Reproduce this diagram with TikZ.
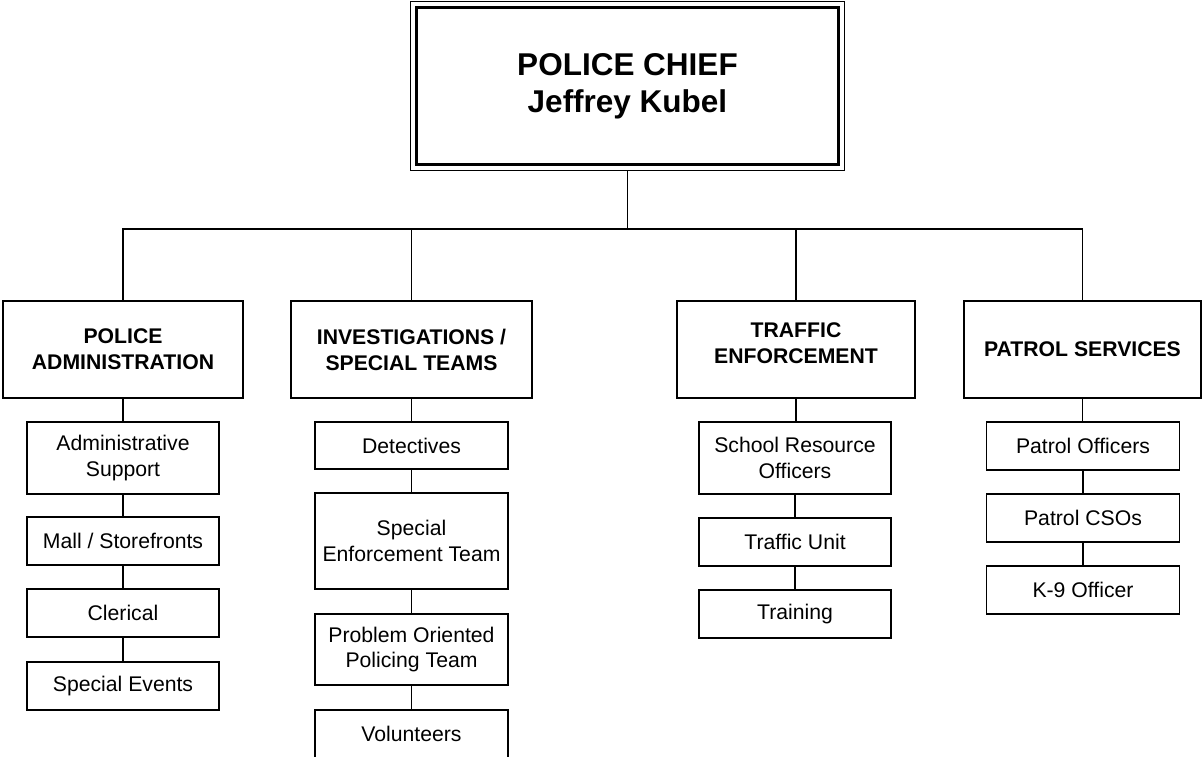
\documentclass[tikz,border=0pt]{standalone}
\usepackage{fontspec}
\setmainfont{Liberation Sans}
\usetikzlibrary{fit}
\tikzset{
  box/.style={draw=black, line width=1.8pt, rectangle, align=center, inner sep=0pt,
    font=\fontsize{21.2}{25.5}\selectfont},
  head/.style={box, minimum width=240pt, minimum height=97pt, font=\fontsize{21.2}{26}\selectfont\bfseries},
  sub/.style={box, minimum width=193pt},
  conn/.style={draw=black, line width=1.8pt}
}
\begin{document}
\begin{tikzpicture}[x=1pt, y=-1pt]
\useasboundingbox (0,0) rectangle (1202,757);
\fill[white] (0,0) rectangle (1202,757);

% chief
\node[draw=black, line width=2.2pt, minimum width=422pt, minimum height=157pt, align=center,
      inner sep=0pt, font=\fontsize{31.5}{37}\selectfont\bfseries] (chief) at (627.5,86)
      {POLICE CHIEF\\Jeffrey Kubel};
\node[draw=black, line width=1.4pt, fit=(chief), inner sep=5pt] (chiefo) {};

\coordinate (bus) at (627.5,229);

% departments
\node[head] (admin) at (123,349.5) {POLICE\\ADMINISTRATION};
\node[head, minimum width=241pt] (invest) at (411.5,349.5) {INVESTIGATIONS /\\SPECIAL TEAMS};
\node[head, minimum width=238pt] (traffic) at (796,349.5) {};
\node[font=\fontsize{21.2}{26}\selectfont\bfseries, align=center] (traffictxt) at (796,343) {TRAFFIC\\ENFORCEMENT};
\node[head, minimum width=237pt] (patrol) at (1082.5,349.5) {PATROL SERVICES};

% bus connectors
\draw[conn] (chiefo.south) -- (bus);
\draw[conn] (admin.north) -- (admin.north |- bus) -- (patrol.north |- bus) -- (patrol.north);
\draw[conn] (invest.north) -- (invest.north |- bus);
\draw[conn] (traffic.north) -- (traffic.north |- bus);

% admin column
\node[sub, minimum width=192pt, minimum height=72pt] (adsup) at (123,458) {Administrative\\Support};
\node[sub, minimum width=192pt, minimum height=48pt] (mall) at (123,541) {Mall / Storefronts};
\node[sub, minimum width=192pt, minimum height=48pt] (cler) at (123,613) {Clerical};
\node[sub, minimum width=192pt, minimum height=48pt] (spev) at (123,686) {Special Events};
\draw[conn] (admin.south) -- (adsup.north);
\draw[conn] (adsup.south) -- (mall.north);
\draw[conn] (mall.south) -- (cler.north);
\draw[conn] (cler.south) -- (spev.north);

% investigations column
\node[sub, minimum height=47pt] (det) at (411.5,445.5) {Detectives};
\node[sub, minimum height=96pt] (set) at (411.5,541) {Special\\Enforcement Team};
\node[sub, minimum height=71pt] (pop) at (411.5,649.5) {Problem Oriented\\Policing Team};
\node[sub, minimum height=48pt] (vol) at (411.5,734) {Volunteers};
\draw[conn] (invest.south) -- (det.north);
\draw[conn] (det.south) -- (set.north);
\draw[conn] (set.south) -- (pop.north);
\draw[conn] (pop.south) -- (vol.north);

% traffic column
\node[sub, minimum width=192pt, minimum height=72pt] (sro) at (795,458) {School Resource\\Officers};
\node[sub, minimum width=192pt, minimum height=48pt] (tunit) at (795,542) {Traffic Unit};
\node[sub, minimum width=192pt, minimum height=48pt] (train) at (795,614) {Training};
\draw[conn] (traffic.south) -- (traffic.south |- sro.north);
\draw[conn] (sro.south) -- (tunit.north);
\draw[conn] (tunit.south) -- (train.north);

% patrol column
\node[sub, minimum height=48pt] (pofc) at (1083,446) {Patrol Officers};
\node[sub, minimum height=48pt] (pcso) at (1083,518) {Patrol CSOs};
\node[sub, minimum height=48pt] (k9) at (1083,590) {K-9 Officer};
\draw[conn] (patrol.south) -- (patrol.south |- pofc.north);
\draw[conn] (pofc.south) -- (pcso.north);
\draw[conn] (pcso.south) -- (k9.north);
\end{tikzpicture}
\end{document}
